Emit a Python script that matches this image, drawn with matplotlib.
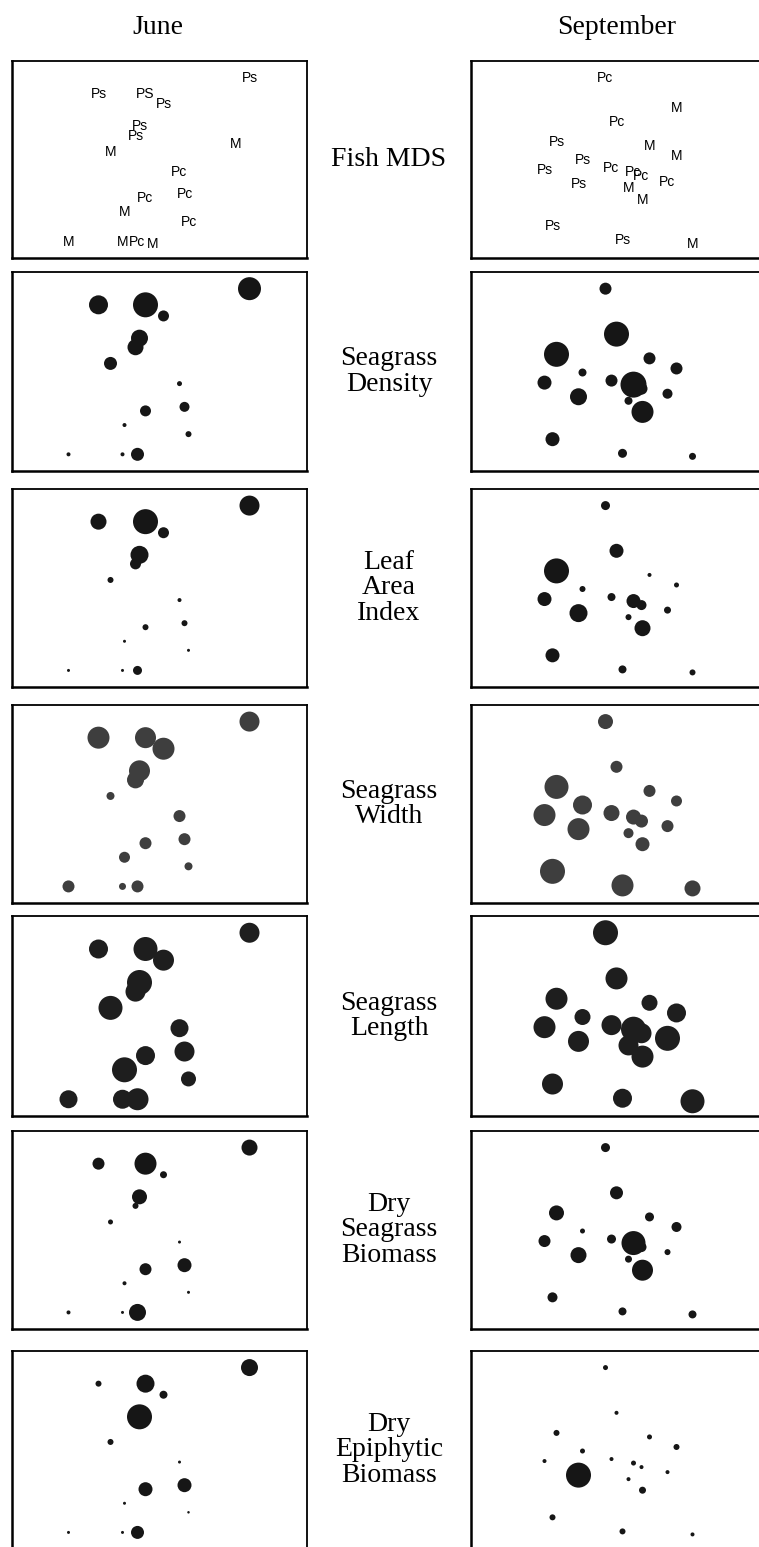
import numpy as np
import matplotlib.pyplot as plt

# fish MDS ordination, one point per site (June)
june_x = [0.90, -0.61, -0.14, 0.04, -0.20, -0.24, -0.49, 0.76, 0.20,
          0.25, -0.14, -0.35, 0.29, -0.91, -0.37, -0.22, -0.07]
june_y = [0.82, 0.66, 0.66, 0.55, 0.33, 0.24, 0.08, 0.15, -0.12,
          -0.35, -0.39, -0.53, -0.62, -0.82, -0.82, -0.82, -0.84]
june_site = ["Ps", "Ps", "PS", "Ps", "Ps", "Ps", "M", "M", "Pc",
             "Pc", "Pc", "M", "Pc", "M", "M", "Pc", "M"]

# fish MDS ordination (September)
sept_x = [-0.13, 0.58, -0.02, -0.62, 0.31, 0.58, -0.36, -0.74, -0.07,
          0.15, 0.23, 0.49, -0.40, 0.10, 0.24, -0.66, 0.04, 0.74]
sept_y = [0.82, 0.52, 0.37, 0.17, 0.13, 0.03, -0.01, -0.11, -0.09,
          -0.13, -0.17, -0.22, -0.25, -0.29, -0.40, -0.67, -0.81, -0.84]
sept_site = ["Pc", "M", "Pc", "Ps", "M", "M", "Ps", "Ps", "Pc",
             "Pc", "Pc", "Pc", "Ps", "M", "M", "Ps", "Ps", "M"]

# habitat variables per site (relative scale, 0 = none)
june_density = [23, 19, 25, 11, 17, 16, 13, 0, 5, 10, 11, 4, 6, 4, 4, 13, 0]
june_lai = [20, 16, 25, 11, 18, 11, 6, 0, 4, 6, 6, 3, 3, 3, 3, 9, 0]
june_width = [20, 22, 21, 22, 21, 17, 8, 0, 12, 12, 12, 11, 8, 12, 7, 12, 0]
june_length = [20, 19, 24, 21, 25, 20, 24, 0, 18, 20, 19, 25, 15, 18, 19, 22, 0]
june_sg_biomass = [16, 12, 22, 7, 15, 6, 5, 0, 3, 14, 12, 4, 3, 4, 3, 17, 0]
june_epi_biomass = [17, 6, 18, 8, 25, 4, 6, 0, 3, 14, 14, 3, 2.5, 3, 3, 13, 0]

sept_density = [12, 0, 25, 25, 12, 12, 8, 14, 12, 26, 12, 10, 17, 8, 22, 14, 9, 7]
sept_lai = [9, 0, 14, 25, 4, 5, 6, 14, 8, 14, 10, 7, 18, 6, 16, 14, 8, 6]
sept_width = [15, 0, 12, 24, 12, 11, 19, 22, 16, 15, 13, 12, 22, 10, 14, 25, 22, 16]
sept_length = [25, 0, 22, 22, 16, 19, 16, 22, 20, 25, 20, 25, 21, 20, 22, 21, 19, 24]
sept_sg_biomass = [9, 0, 13, 15, 9, 10, 5, 12, 9, 24, 10, 6, 16, 7, 21, 10, 8, 8]
sept_epi_biomass = [5, 0, 4, 6, 5, 6, 5, 4, 4, 5, 4, 4, 25, 4, 7, 6, 6, 4]

row_labels = ["Fish MDS", "Seagrass\nDensity", "Leaf\nArea\nIndex",
              "Seagrass\nWidth", "Seagrass\nLength", "Dry\nSeagrass\nBiomass",
              "Dry\nEpiphytic\nBiomass"]
months = ["June", "September"]

variables = [
    (june_density, sept_density, "#161616"),
    (june_lai, sept_lai, "#161616"),
    (june_width, sept_width, "#3e3e3e"),
    (june_length, sept_length, "#1e1e1e"),
    (june_sg_biomass, sept_sg_biomass, "#161616"),
    (june_epi_biomass, sept_epi_biomass, "#161616"),
]

W, H = 759, 1547
fig = plt.figure(figsize=(W / 100, H / 100), dpi=100)

serif = "Liberation Serif"
sans = "Liberation Sans"

col_left = [12, 471]
col_w = 295
rows = [(61, 258), (272, 471), (489, 687), (705, 903),
        (916, 1116), (1131, 1329), (1351, 1549)]


def panel(col, row):
    top, bot = rows[row]
    ax = fig.add_axes([col_left[col] / W, 1 - bot / H, col_w / W, (bot - top) / H])
    ax.set_xlim(-1.475, 1.475)
    ax.set_ylim(-0.985, 0.985)
    ax.set_xticks([])
    ax.set_yticks([])
    for side, sp in ax.spines.items():
        sp.set_linewidth(1.8 if side in ("left", "bottom") else 1.3)
        sp.set_color("black")
    return ax


coords = [(june_x, june_y, june_site), (sept_x, sept_y, sept_site)]

# row 1: site labels at their MDS positions
for c, (xs, ys, sites) in enumerate(coords):
    ax = panel(c, 0)
    for x, y, s in zip(xs, ys, sites):
        ax.text(x, y, s, fontsize=10, family=sans, ha="center", va="center")

# bubble rows: site positions from the MDS, bubble size from the variable
for r, (jv, sv, colour) in enumerate(variables, start=1):
    for c, vals in enumerate([jv, sv]):
        xs, ys, _ = coords[c]
        ax = panel(c, r)
        v = np.array(vals, dtype=float)
        keep = v > 0
        ax.scatter(np.array(xs)[keep], np.array(ys)[keep],
                   s=(v[keep] * 0.72) ** 2, color=colour,
                   edgecolors="none", zorder=3)

# column titles and row names
for c, m in enumerate(months):
    fig.text((col_left[c] + col_w / 2 - 2) / W, 1 - 27 / H, m,
             family=serif, fontsize=20, ha="center", va="center")

for r, lab in enumerate(row_labels):
    top, bot = rows[r]
    fig.text(389 / W, 1 - (top + bot) / 2 / H, lab, family=serif,
             fontsize=20, ha="center", va="center", linespacing=1.05)

fig.savefig("out.png", dpi=100)
